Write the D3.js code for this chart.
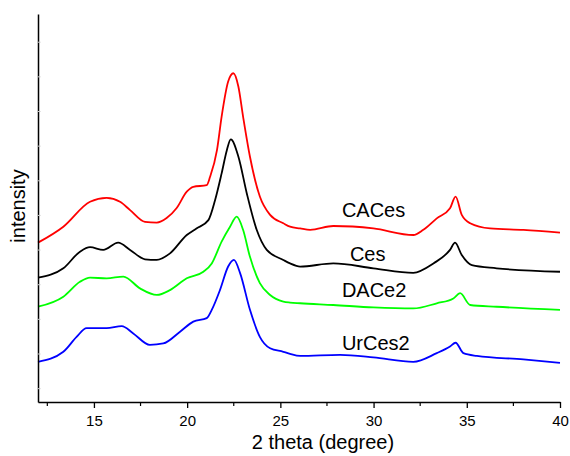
<!DOCTYPE html>
<html>
<head>
<meta charset="utf-8">
<script src="https://cdn.jsdelivr.net/npm/d3@7"></script>
<style>
  body { margin: 0; background: #fff; }
  svg text { font-family: Arial, "Liberation Sans", sans-serif; }
</style>
</head>
<body>
<svg id="chart" width="570" height="456"></svg>
<script>
// 2 theta (deg), intensity (a.u.)
const caces = [[12,460],[13.36,506],[14.79,578],[15.68,589],[16.4,578],[16.94,554],[17.74,520],[18.37,518],[18.9,531],[19.44,560],[19.98,607],[20.33,621],[21.05,626],[21.23,650],[21.6,727],[21.85,824],[22.2,925],[22.48,949],[22.75,910],[23.0,824],[23.37,708],[23.9,593],[24.45,540],[25.16,516],[25.52,506],[26.06,501],[26.6,497],[27.84,508],[29.99,501],[32.13,482],[32.67,497],[33.39,530],[34.1,559],[34.4,593],[34.73,540],[35.18,516],[36.25,501],[38.04,497],[40,489]];
const ces = [[12,359],[13.36,386],[14.25,434],[14.79,447],[15.5,439],[16.3,460],[16.94,439],[17.74,412],[18.37,410],[19.08,429],[19.98,482],[20.5,501],[21.14,525],[21.5,583],[21.85,660],[22.13,727],[22.34,758],[22.75,708],[23.2,602],[23.73,497],[24.27,439],[25.16,410],[25.52,400],[26.06,391],[27.84,400],[29.99,386],[32.13,373],[33.21,400],[34.1,439],[34.37,460],[34.73,424],[35.27,395],[36.6,386],[40,376]];
const dace2 = [[12,275],[13.36,304],[14.25,347],[14.79,359],[15.68,357],[16.58,362],[17.47,328],[18.37,309],[19.08,323],[19.98,357],[20.87,376],[21.32,400],[21.85,463],[22.3,506],[22.66,535],[23.0,497],[23.37,419],[23.9,343],[24.45,309],[25.16,290],[25.52,287],[26.06,285],[27.84,280],[29.99,273],[32.13,270],[33.39,285],[34.28,299],[34.64,314],[35.18,280],[36.6,275],[40,266]];
const urces2 = [[12,116],[13.36,145],[14.07,188],[14.61,213],[15.68,213],[16.49,219],[17.11,198],[18.0,165],[18.72,169],[19.62,203],[20.33,232],[21.05,242],[21.32,266],[21.76,323],[22.2,391],[22.51,410],[22.84,372],[23.37,266],[23.9,188],[24.45,155],[25.16,145],[25.52,139],[26.06,133],[28.2,136],[29.99,129],[32.13,116],[33.39,141],[34.1,160],[34.4,171],[34.82,141],[35.54,133],[38.04,123],[40,113]];

const seriesNames = ["CACes", "Ces", "DACe2", "UrCes2"];
const seriesColors = ["#ff0000", "#000000", "#00ff00", "#0000ff"];
const seriesData = [caces, ces, dace2, urces2];
// label anchor (2 theta, intensity)
const labelPos = [[28.3, 535], [28.73, 408], [28.3, 304], [28.3, 150]];

const xTicks = [15, 20, 25, 30, 35, 40];
const xMinorTicks = [12.5, 17.5, 22.5, 27.5, 32.5, 37.5];
const yTicks = [40, 140, 240, 340, 440, 540, 640, 740, 840, 940, 1040];

const svg = d3.select("#chart");
const plotLeft = 38, plotRight = 560, plotTop = 14, plotBottom = 402;

const x = d3.scaleLinear().domain([12, 40]).range([plotLeft, plotRight]);
const y = d3.scaleLinear().domain([0, 1120]).range([plotBottom, plotTop]);

const line = d3.line()
    .x(d => x(d[0]))
    .y(d => y(d[1]))
    .curve(d3.curveMonotoneX);

seriesData.forEach((data, i) => {
    svg.append("path")
        .datum(data)
        .attr("fill", "none")
        .attr("stroke", seriesColors[i])
        .attr("stroke-width", 1.8)
        .attr("stroke-linejoin", "round")
        .attr("d", line);
});

svg.append("g")
    .selectAll("text")
    .data(seriesNames)
    .enter().append("text")
    .attr("x", (d, i) => x(labelPos[i][0]))
    .attr("y", (d, i) => y(labelPos[i][1]))
    .attr("font-size", 20)
    .attr("fill", "#000")
    .text(d => d);

// x axis: major + minor ticks
const xAxis = svg.append("g")
    .attr("transform", `translate(0,${plotBottom})`)
    .call(d3.axisBottom(x).tickValues(xTicks).tickSize(6).tickSizeOuter(0));
xAxis.select(".domain").attr("stroke-width", 1.3);
xAxis.selectAll(".tick line").attr("stroke-width", 1.3);
xAxis.selectAll(".tick text")
    .attr("font-size", 15)
    .attr("font-family", "Arial, 'Liberation Sans', sans-serif")
    .attr("dy", "1.0em");

svg.append("g")
    .attr("transform", `translate(0,${plotBottom})`)
    .selectAll("line")
    .data(xMinorTicks)
    .enter().append("line")
    .attr("x1", d => x(d)).attr("x2", d => x(d))
    .attr("y1", 0).attr("y2", 4)
    .attr("stroke", "#000")
    .attr("stroke-width", 1.2);

// y axis: line with faint inner ticks, no labels
const yAxis = svg.append("g")
    .attr("transform", `translate(${plotLeft},0)`)
    .call(d3.axisLeft(y).tickValues(yTicks).tickSize(-2.5).tickSizeOuter(0).tickFormat(""));
yAxis.select(".domain").attr("stroke-width", 1.5);
yAxis.selectAll(".tick line").attr("stroke", "#c8c8c8");

svg.append("text")
    .attr("x", 323)
    .attr("y", 449)
    .attr("text-anchor", "middle")
    .attr("font-size", 20)
    .text("2 theta (degree)");

svg.append("text")
    .attr("transform", `translate(25,${206}) rotate(-90)`)
    .attr("text-anchor", "middle")
    .attr("font-size", 20)
    .text("intensity");
</script>
</body>
</html>
